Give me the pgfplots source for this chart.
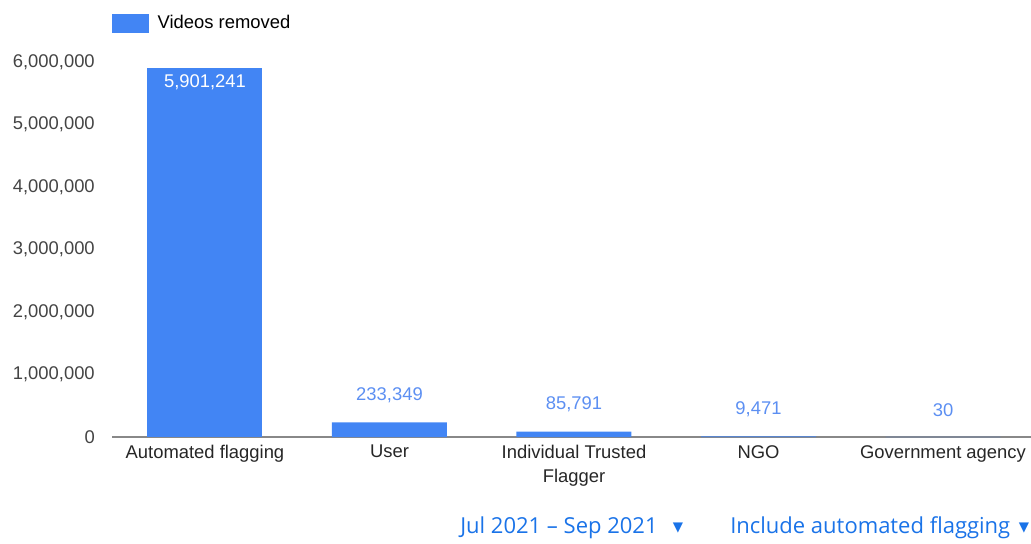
\documentclass[border=0pt]{standalone}
\usepackage{pgfplots}
\pgfplotsset{compat=1.18}
\usepackage{fontspec}
\setmainfont{Liberation Sans}
\newfontfamily\uifont{Open Sans}
\newfontfamily\symfont{DejaVu Sans}
\definecolor{barblue}{HTML}{4285F4}
\definecolor{lblblue}{HTML}{5C8FF2}
\definecolor{tickgray}{HTML}{444444}
\definecolor{axgray}{HTML}{888888}
\definecolor{uiblue}{HTML}{1A73E8}
\begin{document}
\begin{tikzpicture}
\path[use as bounding box] (0,0) rectangle (773.25pt,407.25pt);
\begin{axis}[
  at={(84pt,79.5pt)}, anchor=south west,
  scale only axis, width=689.25pt, height=281.25pt,
  xmin=-0.504, xmax=4.477, ymin=0, ymax=6000000,
  axis x line*=bottom, axis y line*=left,
  y axis line style={draw=none},
  x axis line style={draw=axgray, line width=1pt},
  major tick length=0pt,
  tick style={draw=none},
  xtick={0,1,2,3,4},
  xticklabels={Automated flagging, User, {Individual Trusted\\Flagger}, NGO, Government agency},
  xticklabel style={align=center, anchor=north, inner sep=0pt, yshift=-6pt,
    font=\fontsize{13.8}{18}\selectfont, text=black!85},
  ytick={0,1000000,2000000,3000000,4000000,5000000,6000000},
  scaled y ticks=false,
  yticklabel style={anchor=east, inner sep=0pt, xshift=-12.75pt,
    font=\fontsize{13.8}{16}\selectfont, text=tickgray,
    /pgf/number format/.cd, fixed, 1000 sep={,}, assume math mode=true},
  legend style={at={(0,1.1307)}, anchor=north west, draw=none, fill=none,
    inner sep=0pt, outer sep=0pt, font=\fontsize{13.8}{16}\selectfont},
  legend cell align=left,
  legend image code/.code={\fill[barblue] (0pt,-7.125pt) rectangle (27.75pt,7.125pt);
    \path (32.25pt,0pt);},
  point meta=explicit symbolic,
]
\addplot[ybar, fill=barblue, draw=none, bar width=86.25pt, bar shift=0pt,
  nodes near coords,
  nodes near coords style={anchor=center, yshift=-10.5pt, text=white,
    font=\fontsize{13.8}{16}\selectfont}]
  coordinates {(0,5901241) [5,901,241]};
\addlegendentry{Videos removed}
\addplot[ybar, fill=barblue, draw=none, bar width=86.25pt, bar shift=0pt,
  nodes near coords,
  nodes near coords style={anchor=center, yshift=20.25pt, text=lblblue,
    font=\fontsize{13.8}{16}\selectfont},
  forget plot]
  coordinates {(1,233349) [233,349] (2,85791) [85,791] (3,9471) [9,471] (4,30) [30]};
\end{axis}
\node[anchor=west, inner sep=0pt, text=uiblue, font=\uifont\fontsize{16.5}{19}\selectfont] at (345pt,11.25pt) {Jul 2021 – Sep 2021};
\node[anchor=center, inner sep=0pt, text=uiblue, font=\symfont\fontsize{10}{12}\selectfont] at (508.5pt,11.5pt) {▼};
\node[anchor=west, inner sep=0pt, text=uiblue, font=\uifont\fontsize{16.5}{19}\selectfont] at (547.5pt,11.25pt) {Include automated flagging};
\node[anchor=center, inner sep=0pt, text=uiblue, font=\symfont\fontsize{10}{12}\selectfont] at (768pt,11.5pt) {▼};
\end{tikzpicture}
\end{document}
